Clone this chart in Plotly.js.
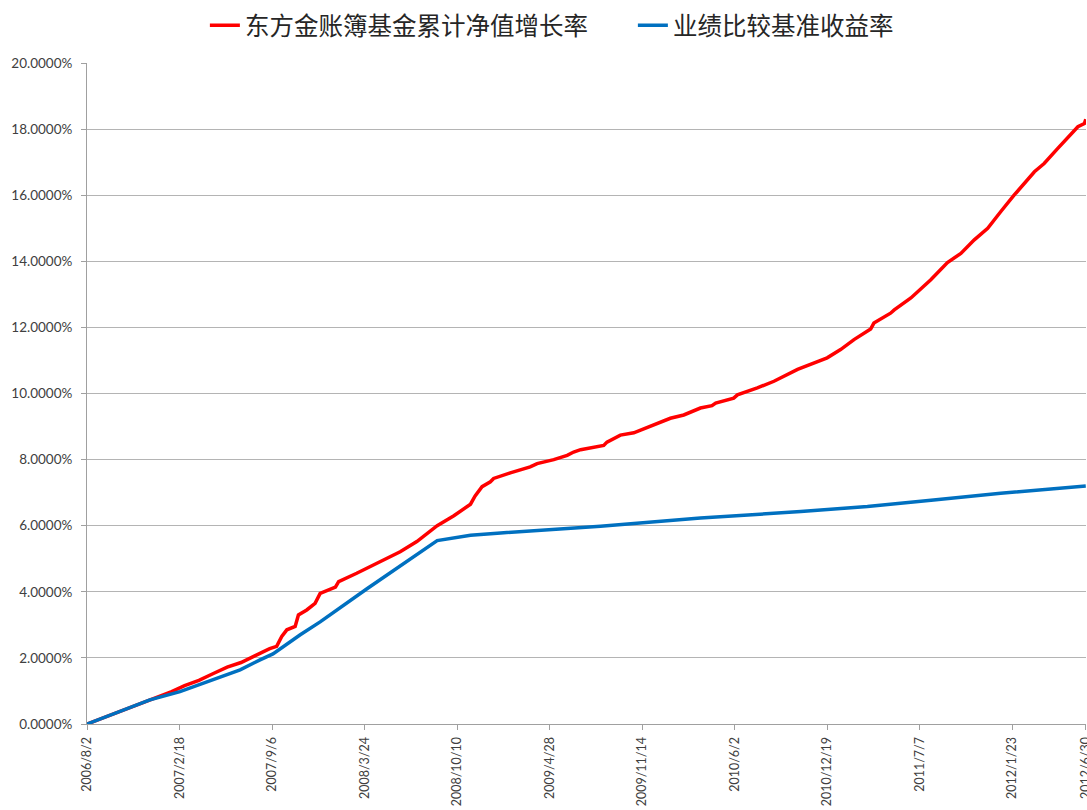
<!DOCTYPE html>
<html>
<head>
<meta charset="utf-8">
<script src="https://cdn.plot.ly/plotly-3.0.1.min.js"></script>
<style>
html,body{margin:0;padding:0;background:#fff;}
#chart{width:1087px;height:810px;}
</style>
</head>
<body>
<div id="chart"></div>
<script>
// Series names
const seriesNames = ['东方金账簿基金累计净值增长率', '业绩比较基准收益率'];

// Fund cumulative NAV growth (%)
const fundDates = [
  '2006-08-02','2006-09-01','2006-10-01','2006-11-01','2006-12-01','2007-01-01','2007-02-01',
  '2007-03-01','2007-04-01','2007-05-01','2007-06-01','2007-07-01','2007-08-01','2007-09-01',
  '2007-09-16','2007-09-27','2007-10-08','2007-10-26','2007-11-02','2007-11-20','2007-12-08',
  '2007-12-19','2008-01-21','2008-01-28','2008-03-07','2008-04-12','2008-06-09','2008-07-15',
  '2008-08-28','2008-10-03','2008-11-08','2008-11-18','2008-12-03','2008-12-21','2008-12-28',
  '2009-02-02','2009-03-17','2009-04-01','2009-05-07','2009-06-05','2009-06-19','2009-07-04',
  '2009-08-23','2009-08-30','2009-09-28','2009-10-27','2009-11-10','2009-12-02','2009-12-24',
  '2010-01-14','2010-02-12','2010-03-20','2010-04-14','2010-04-22','2010-05-31','2010-06-08',
  '2010-07-21','2010-08-26','2010-10-16','2010-11-20','2010-12-19','2011-01-17','2011-02-15',
  '2011-03-23','2011-03-30','2011-05-05','2011-05-13','2011-06-18','2011-07-31','2011-09-05',
  '2011-10-04','2011-11-02','2011-12-01','2011-12-29','2012-01-27','2012-03-11','2012-04-01',
  '2012-04-30','2012-06-05','2012-06-13','2012-06-27','2012-06-30'
];
const fundValues = [
  0, 0.16, 0.32, 0.49, 0.65, 0.82, 0.98,
  1.16, 1.32, 1.52, 1.72, 1.86, 2.08, 2.28,
  2.35, 2.65, 2.85, 2.95, 3.30, 3.45, 3.65,
  3.95, 4.14, 4.31, 4.56, 4.81, 5.21, 5.52,
  6.00, 6.30, 6.65, 6.90, 7.18, 7.33, 7.43,
  7.60, 7.78, 7.88, 8.00, 8.13, 8.23, 8.30,
  8.43, 8.53, 8.74, 8.81, 8.89, 9.00, 9.15,
  9.25, 9.35, 9.56, 9.63, 9.71, 9.86, 9.96,
  10.17, 10.37, 10.73, 10.91, 11.08, 11.33, 11.63,
  11.95, 12.13, 12.43, 12.53, 12.89, 13.44, 13.96,
  14.24, 14.65, 15.00, 15.50, 16.00, 16.71, 16.96,
  17.41, 17.92, 18.07, 18.17, 18.30
];

// Benchmark return (%)
const benchDates = [
  '2006-08-02','2006-12-16','2007-02-19','2007-05-10','2007-06-29','2007-08-11','2007-09-08',
  '2007-11-06','2007-12-19','2008-03-30','2008-08-28','2008-11-08','2009-01-12','2009-08-16',
  '2010-03-20','2010-10-23','2011-03-16','2011-08-06','2011-12-29','2012-06-30'
];
const benchValues = [
  0, 0.73, 0.98, 1.38, 1.64, 1.94, 2.12,
  2.70, 3.09, 4.10, 5.55, 5.71, 5.78, 5.98,
  6.23, 6.43, 6.58, 6.78, 6.98, 7.20
];

// X tick positions and labels
const xTickVals = ['2006-08-02','2007-02-18','2007-09-06','2008-03-24','2008-10-10','2009-04-28',
  '2009-11-14','2010-06-02','2010-12-19','2011-07-07','2012-01-23','2012-06-30'];
const xTickText = ['2006/8/2','2007/2/18','2007/9/6','2008/3/24','2008/10/10','2009/4/28',
  '2009/11/14','2010/6/2','2010/12/19','2011/7/7','2012/1/23','2012/6/30'];

const traces = [
  {x: fundDates, y: fundValues, name: seriesNames[0], type: 'scatter', mode: 'lines',
   line: {color: '#ff0000', width: 3.5}},
  {x: benchDates, y: benchValues, name: seriesNames[1], type: 'scatter', mode: 'lines',
   line: {color: '#0070c0', width: 3.5}}
];

const yTickFont = {family: 'Lato, "Open Sans", sans-serif', size: 13.5, color: '#404040'};
const xTickFont = {family: 'Lato, "Open Sans", sans-serif', size: 12.5, color: '#404040'};

const layout = {
  width: 1087, height: 810,
  margin: {l: 87, r: 1, t: 63, b: 86},
  paper_bgcolor: '#ffffff', plot_bgcolor: '#ffffff',
  showlegend: true,
  legend: {orientation: 'h', x: 0.118, xanchor: 'left', y: 1.091, yanchor: 'top',
    font: {family: '"Noto Sans CJK SC", sans-serif', size: 24.5, color: '#262626'},
    itemwidth: 30, entrywidth: 383, entrywidthmode: 'pixels', bgcolor: 'rgba(0,0,0,0)'},
  xaxis: {
    type: 'date', range: ['2006-08-02', '2012-06-30 12:00'],
    tickmode: 'array', tickvals: xTickVals, ticktext: xTickText, tickangle: -90,
    ticks: 'outside', ticklen: 5, tickcolor: '#a0a0a0', ticklabelstandoff: 2,
    ticklabeloverflow: 'allow',
    showgrid: false, showline: true, linecolor: '#a0a0a0', linewidth: 1,
    zeroline: false, tickfont: xTickFont, fixedrange: true
  },
  yaxis: {
    range: [0, 20], dtick: 2, tick0: 0, tickformat: '.4f', ticksuffix: '%',
    ticks: 'outside', ticklen: 5, tickcolor: '#a0a0a0', ticklabelstandoff: 6,
    showgrid: true, gridcolor: '#b4b4b4', gridwidth: 1,
    showline: true, linecolor: '#a0a0a0', linewidth: 1,
    zeroline: false, tickfont: yTickFont, fixedrange: true
  }
};

Plotly.newPlot('chart', traces, layout, {displayModeBar: false, staticPlot: true});
</script>
</body>
</html>
